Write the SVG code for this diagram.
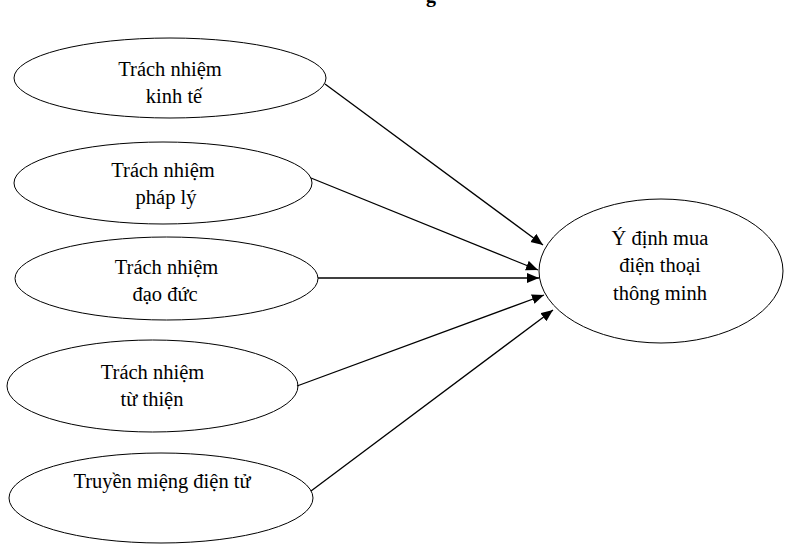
<svg xmlns="http://www.w3.org/2000/svg" width="793" height="555" viewBox="0 0 793 555">
<style>
  .node ellipse { fill: #ffffff; stroke: #000000; stroke-width: 1; }
  .node text { font-family: "Liberation Serif", "Times New Roman", serif; font-size: 20.5px; fill: #000000; text-anchor: middle; }
  .title { font-family: "Liberation Serif", "Times New Roman", serif; font-size: 20px; font-weight: bold; fill: #000000; text-anchor: middle; }
  .conn line { stroke: #000000; stroke-width: 1.3; fill: none; marker-end: url(#arrow); }
</style>
<defs>
  <marker id="arrow" markerUnits="userSpaceOnUse" markerWidth="13" markerHeight="11" refX="12" refY="5" orient="auto">
    <path d="M0,0 L12,5 L0,10 Z" fill="#000000"/>
  </marker>
</defs>
<rect x="0" y="0" width="793" height="555" fill="#ffffff"/>
<text class="title" x="431" y="1.5">g</text>

<g id="n1" class="node">
  <ellipse cx="170" cy="78" rx="156" ry="40"/>
  <text x="170" y="76">Trách nhiệm</text>
  <text x="174" y="103">kinh tế</text>
</g>
<g id="n2" class="node">
  <ellipse cx="163" cy="183" rx="149" ry="41"/>
  <text x="163" y="177">Trách nhiệm</text>
  <text x="166" y="204">pháp lý</text>
</g>
<g id="n3" class="node">
  <ellipse cx="166.5" cy="278.5" rx="151.5" ry="41.5"/>
  <text x="166.5" y="274">Trách nhiệm</text>
  <text x="165" y="301">đạo đức</text>
</g>
<g id="n4" class="node">
  <ellipse cx="152.5" cy="386" rx="145.5" ry="46"/>
  <text x="152.5" y="379">Trách nhiệm</text>
  <text x="152" y="406">từ thiện</text>
</g>
<g id="n5" class="node">
  <ellipse cx="161" cy="498" rx="152" ry="45"/>
  <text x="162" y="488">Truyền miệng điện tử</text>
</g>
<g id="n6" class="node">
  <ellipse cx="661" cy="271" rx="122" ry="72"/>
  <text x="660" y="245">Ý định mua</text>
  <text x="660" y="272">điện thoại</text>
  <text x="660" y="300">thông minh</text>
</g>

<g id="connectors" class="conn">
  <line x1="325" y1="84" x2="543" y2="245"/>
  <line x1="311" y1="178" x2="538" y2="270"/>
  <line x1="318" y1="278" x2="539" y2="278"/>
  <line x1="297" y1="386" x2="544" y2="295"/>
  <line x1="311" y1="491" x2="553" y2="310"/>
</g>
</svg>
